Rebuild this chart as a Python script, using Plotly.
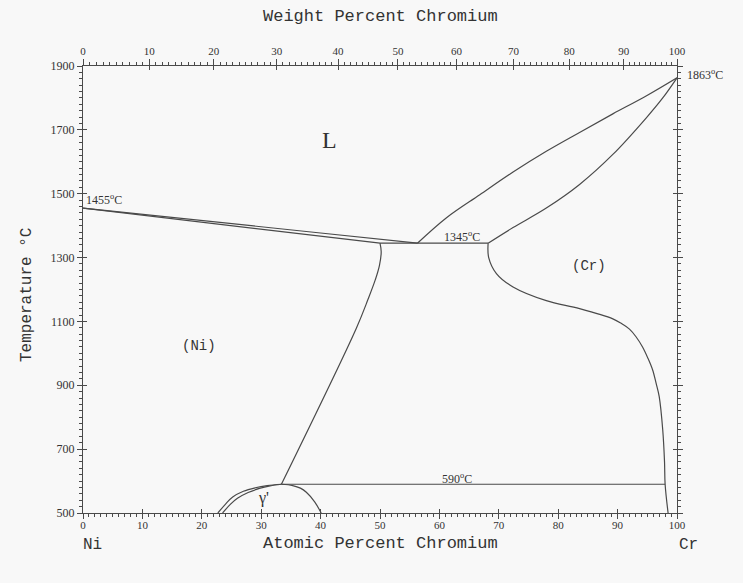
import plotly.graph_objects as go

# ---------------- data (atomic % Cr, temperature °C) ----------------
liq_ni_x = [0, 20, 40, 56.3]
liq_ni_t = [1455, 1417, 1377, 1345]

sol_ni_x = [0, 25, 50.0]
sol_ni_t = [1455, 1400, 1345]

eut_x = [50.0, 68.2]
eut_t = [1345, 1345]

solvus_ni_x = [50.0, 50.2, 49.9, 49.2, 48.0, 46.0, 33.4]
solvus_ni_t = [1345, 1318, 1275, 1230, 1170, 1078, 590]

liq_cr_x = [56.3, 61.2, 66.8, 72.4, 78.0, 83.6, 89.2, 94.8, 100]
liq_cr_t = [1345, 1425, 1497, 1568, 1633, 1692, 1750, 1806, 1863]

sol_cr_x = [68.2, 72.4, 78.0, 83.6, 89.2, 94.8, 97.6, 100]
sol_cr_t = [1345, 1394, 1455, 1529, 1623, 1737, 1800, 1863]

solvus_cr_x = [68.2, 68.3, 69.6, 72.4, 78.0, 83.6, 89.2, 90.6, 92.0, 93.1, 94.2, 95.1, 95.9, 96.5, 97.0,
               97.6, 97.9, 98.0, 98.5]
solvus_cr_t = [1345, 1300, 1250, 1208, 1165, 1140, 1108, 1094, 1076, 1052, 1020, 985, 948, 905, 865,
               760, 660, 590, 500]

eut590_x = [33.4, 98.0]
eut590_t = [590, 590]

gp_right_x = [33.4, 35.3, 36.6, 37.6, 39.0, 40.1]
gp_right_t = [590, 586, 578, 565, 535, 500]

gp_outer_x = [22.7, 24.0, 25.2, 27.0, 29.0, 31.0, 33.4]
gp_outer_t = [500, 528, 550, 568, 579, 586, 590]

gp_inner_x = [23.5, 24.8, 26.0, 27.8, 29.7, 31.5, 33.4]
gp_inner_t = [500, 527, 546, 564, 577, 585, 590]

bottom_ticks = list(range(0, 101, 10))
left_ticks = list(range(500, 1901, 200))
weight_ticks = list(range(0, 101, 10))

M_CR, M_NI = 51.996, 58.693


def wt_to_at(w):
    if w <= 0:
        return 0.0
    if w >= 100:
        return 100.0
    a = w / M_CR
    b = (100 - w) / M_NI
    return 100 * a / (a + b)


top_tickvals = [wt_to_at(w) for w in weight_ticks]
top_minor = [wt_to_at(w) for w in range(0, 101) if w % 10 != 0]

LINE = "#4a4a4a"
BG = "#f8f8f8"
TXT = "#333"

fig = go.Figure()

curves = [
    (liq_ni_x, liq_ni_t, 0), (sol_ni_x, sol_ni_t, 0), (eut_x, eut_t, 0),
    (solvus_ni_x, solvus_ni_t, 1.0), (liq_cr_x, liq_cr_t, 1.0), (sol_cr_x, sol_cr_t, 1.0),
    (solvus_cr_x, solvus_cr_t, 1.0), (eut590_x, eut590_t, 0),
    (gp_right_x, gp_right_t, 1.0), (gp_outer_x, gp_outer_t, 1.0), (gp_inner_x, gp_inner_t, 1.0),
]
for xs, ts, sm in curves:
    line = dict(color=LINE, width=1.2)
    if sm:
        line.update(shape="spline", smoothing=sm)
    fig.add_trace(go.Scatter(x=xs, y=ts, mode="lines", line=line, hoverinfo="skip", showlegend=False))

# invisible traces to activate the extra axes
for xa, ya in [("x2", "y"), ("x", "y2"), ("x3", "y"), ("x4", "y"), ("x", "y3"), ("x", "y4")]:
    fig.add_trace(go.Scatter(x=[0, 100], y=[500, 1900], xaxis=xa, yaxis=ya, mode="markers",
                             marker=dict(opacity=0), showlegend=False, hoverinfo="skip"))

tickfont = dict(family="Liberation Serif", size=11, color=TXT)
axcommon = dict(showgrid=False, zeroline=False, showline=True, linecolor=LINE, linewidth=1.2,
                ticks="outside", tickcolor=LINE, tickwidth=1.1)
inner = dict(showgrid=False, zeroline=False, showline=False, ticks="inside", ticklen=4,
             tickcolor=LINE, tickwidth=1.1, showticklabels=False)

fig.update_layout(
    width=743, height=583,
    margin=dict(l=83, r=66, t=66, b=70),
    paper_bgcolor=BG, plot_bgcolor=BG,
    xaxis=dict(range=[0, 100], tickvals=bottom_ticks, ticktext=[str(v) for v in bottom_ticks],
               ticklen=5, tickfont=tickfont, ticklabelstandoff=-3,
               minor=dict(tickmode="linear", tick0=0, dtick=1, ticks="outside", ticklen=3, tickcolor=LINE),
               **axcommon),
    xaxis2=dict(range=[0, 100], overlaying="x", side="top", anchor="y",
                tickvals=top_tickvals, ticktext=[str(v) for v in weight_ticks],
                ticklen=6, tickfont=tickfont,
                minor=dict(tickmode="array", tickvals=top_minor, ticks="outside", ticklen=3, tickcolor=LINE),
                **axcommon),
    xaxis3=dict(range=[0, 100], overlaying="x", side="bottom", anchor="y", tickvals=bottom_ticks, **inner),
    xaxis4=dict(range=[0, 100], overlaying="x", side="top", anchor="y", tickvals=top_tickvals, **inner),
    yaxis=dict(range=[500, 1900], tickvals=left_ticks, ticktext=[str(v) for v in left_ticks],
               ticklen=5, tickfont=dict(family="Liberation Serif", size=12, color=TXT),
               minor=dict(tickmode="linear", tick0=500, dtick=20, ticks="outside", ticklen=3, tickcolor=LINE),
               **axcommon),
    yaxis2=dict(range=[500, 1900], overlaying="y", side="right", anchor="x",
                tickvals=left_ticks, showticklabels=False, ticklen=5,
                minor=dict(tickmode="linear", tick0=500, dtick=20, ticks="outside", ticklen=3, tickcolor=LINE),
                **axcommon),
    yaxis3=dict(range=[500, 1900], overlaying="y", side="left", anchor="x", tickvals=left_ticks, **inner),
    yaxis4=dict(range=[500, 1900], overlaying="y", side="right", anchor="x", tickvals=left_ticks, **inner),
)

mono = "Liberation Mono"
serif = "Liberation Serif"
ann = []


def P(px, py):
    return (px - 83) / 594.0, (513 - py) / 447.0


def add_px(text, px, py, size, family=mono, angle=0, xanchor="center"):
    x, y = P(px, py)
    ann.append(dict(text=text, x=x, y=y, xref="paper", yref="paper", showarrow=False,
                    xanchor=xanchor, yanchor="middle", textangle=angle,
                    font=dict(family=family, size=size, color=TXT)))


add_px("Weight Percent Chromium", 380, 16, 17)
add_px("Atomic Percent Chromium", 380, 543, 17)
add_px("Ni", 92, 545, 16)
add_px("Cr", 688, 545, 16)
add_px("Temperature °C", 27, 295, 16, angle=-90)
add_px("1863<sup>o</sup>C", 685, 75, 12, family=serif, xanchor="left")


def add_data(text, x, t, size, family=mono, xanchor="center"):
    ann.append(dict(text=text, x=x, y=t, xref="x", yref="y", showarrow=False,
                    xanchor=xanchor, yanchor="middle",
                    font=dict(family=family, size=size, color=TXT)))


add_data("L", 41.5, 1668, 24, family=serif)
add_data("(Ni)", 19.6, 1023, 14)
add_data("(Cr)", 85.2, 1275, 14)
add_data("γ'", 30.4, 546, 16, family=serif)
add_data("1455<sup>o</sup>C", 0.2, 1483, 12, family=serif, xanchor="left")
add_data("1345<sup>o</sup>C", 63.8, 1366, 12, family=serif)
add_data("590<sup>o</sup>C", 63.0, 608, 12, family=serif)

fig.update_layout(annotations=ann)

fig.write_html("out.html")
